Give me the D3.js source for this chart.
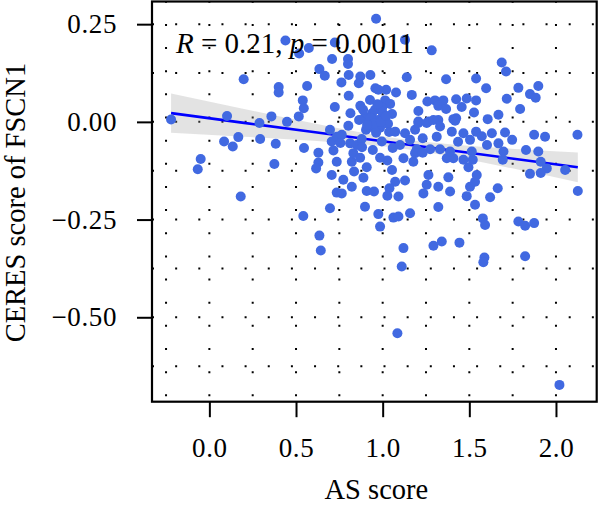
<!DOCTYPE html>
<html>
<head>
<meta charset="utf-8">
<script src="https://cdn.jsdelivr.net/npm/d3@7"></script>
<style>
  body { margin: 0; background: #ffffff; }
</style>
</head>
<body>
<div id="chart"></div>
<script>
/**
 * Data
 */
const asScore = [
  0.962, 1.129, 1.283, 0.439, 0.574, 0.518, 0.724, 0.708, 0.800, 0.800,
  1.687, 1.712, 0.198, 0.635, 0.666, 0.762, 0.804, 0.871, 0.862, 0.929,
  0.958, 1.139, 1.366, 1.539, 1.597, 1.783, 1.898, 1.850, 1.883, 0.564,
  0.400, 0.400, 0.804, 1.020, 0.975, 1.077, 1.168, 1.716, 0.539, 0.545,
  0.516, 0.724, 0.814, 0.871, 0.939, 0.358, 0.102, -0.221, 1.014, 1.043,
  0.956, 1.001, 1.206, 1.258, 1.302, 1.350, 1.321, 1.366, 1.424, 1.485,
  1.539, 1.456, 1.527, 1.606, 1.668, 1.793, 1.424, 1.206, 1.264, 1.321,
  1.408, 0.448, 0.289, 0.898, 0.916, 0.939, 0.973, 0.985, 1.014, 1.031,
  0.962, 0.904, 0.997, 1.054, 0.927, 0.887, 1.037, 0.864, 0.085, 0.135,
  0.167, 0.293, 0.383, 0.546, 0.696, 0.706, 0.735, 0.764, 0.802, 0.812,
  0.851, 0.879, 0.943, 0.995, 1.058, 1.072, 1.129, 1.231, 1.274, 1.331,
  1.197, 1.187, 1.206, 1.254, 1.293, 1.331, 1.312, 1.399, 1.418, 1.466,
  1.539, 1.630, 1.706, 1.668, 1.572, 1.874, 1.937, 2.124, 1.827, 1.898,
  0.756, 0.881, 1.158, 1.100, 1.435, 1.504, 1.602, 1.747, 0.629, 0.629,
  0.616, -0.050, -0.067, 0.375, 0.706, 0.773, 0.822, 0.735, 0.764, 0.908,
  0.950, 0.889, 0.908, 0.835, 0.822, 0.831, 0.735, 0.716, 1.027, 1.120,
  1.177, 1.187, 1.264, 1.254, 1.235, 1.321, 1.379, 1.389, 1.072, 1.129,
  1.039, 1.027, 1.091, 1.664, 1.620, 1.504, 1.533, 1.543, 1.495, 1.520,
  1.466, 1.514, 1.408, 1.370, 1.389, 1.693, 1.697, 1.912, 1.947, 1.912,
  1.850, 2.053, 2.126, 1.231, 1.485, 0.985, 0.870, 1.054, 0.181, 0.542,
  0.696, 0.635, 0.643, 0.898, 1.158, 1.062, 1.091, 0.975, 0.985, 1.120,
  1.293, 1.341, 1.443, 1.822, 1.578, 1.591, 1.783, 1.822, 1.874, 1.533,
  1.321, 1.110, 1.587, 1.581, 1.085, 2.020, 0.930, 0.950, 0.990, 1.020,
  0.910, 0.970
];
const ceresScore = [
  0.264, 0.210, 0.183, 0.208, 0.189, 0.175, 0.203, 0.161, 0.161, 0.148,
  0.152, 0.129, 0.109, 0.135, 0.118, 0.101, 0.120, 0.116, 0.099, 0.120,
  0.086, 0.114, 0.109, 0.111, 0.086, 0.087, 0.092, 0.071, 0.062, 0.092,
  0.089, 0.075, 0.067, 0.082, 0.082, 0.075, 0.069, 0.059, 0.055, 0.035,
  0.014, 0.038, 0.022, 0.041, 0.022, 0.014, 0.015, 0.006, 0.055, 0.046,
  0.031, 0.022, 0.028, 0.052, 0.055, 0.055, 0.041, 0.033, 0.058, 0.060,
  0.055, 0.038, 0.024, 0.007, 0.018, 0.033, 0.009, 0.001, 0.001, 0.005,
  0.007, 0.000, -0.003, 0.013, 0.000, -0.013, 0.005, -0.015, 0.010, -0.005,
  -0.028, -0.020, 0.036, 0.020, 0.056, 0.031, -0.026, 0.005, -0.050, -0.063,
  -0.039, -0.044, -0.056, -0.067, -0.020, -0.050, -0.038, -0.033, -0.010, -0.055,
  -0.059, -0.044, -0.072, -0.050, -0.067, -0.025, -0.029, -0.042, -0.070, -0.070,
  -0.070, -0.020, -0.003, -0.003, 0.005, -0.012, -0.038, -0.025, 0.003, -0.029,
  -0.025, -0.029, -0.027, -0.055, -0.037, -0.033, -0.038, -0.033, -0.072, -0.076,
  -0.054, -0.065, -0.046, -0.059, -0.051, -0.046, -0.059, -0.046, -0.079, -0.104,
  -0.119, -0.095, -0.121, -0.108, -0.136, -0.148, -0.166, -0.181, -0.183, -0.177,
  -0.178, -0.143, -0.116, -0.127, -0.102, -0.080, -0.102, -0.073, -0.099, -0.093,
  -0.102, -0.080, -0.136, -0.161, -0.183, -0.166, -0.142, -0.178, -0.153, -0.150,
  -0.170, -0.189, -0.191, -0.170, -0.193, -0.166, -0.153, -0.136, -0.116, -0.097,
  -0.097, -0.076, -0.093, -0.093, -0.076, -0.097, -0.076, -0.102, -0.119, -0.131,
  -0.133, -0.123, -0.177, -0.079, -0.190, -0.092, -0.092, -0.123, -0.191, -0.241,
  -0.221, -0.291, -0.329, -0.217, -0.234, -0.245, -0.242, -0.236, -0.268, -0.323,
  -0.317, -0.306, -0.309, -0.344, -0.247, -0.264, -0.255, -0.266, -0.259, -0.212,
  -0.218, -0.370, -0.347, -0.359, -0.541, -0.673, 0.010, -0.005, 0.000, 0.015,
  -0.008, 0.045
];

// regression line with its confidence band
const fitX = [-0.221, 0.2, 0.6, 1.0, 1.13, 1.4, 1.8, 2.126];
const fitY = [0.0223, -0.0025, -0.0261, -0.0497, -0.0574, -0.0733, -0.0969, -0.1162];
const fitLow = [-0.0277, -0.038, -0.0486, -0.0626, -0.0694, -0.0888, -0.1239, -0.1542];
const fitHigh = [0.0723, 0.033, -0.0036, -0.0368, -0.0454, -0.0578, -0.0699, -0.0782];

const xTicks = [0, 0.5, 1.0, 1.5, 2.0];
const xTickLabels = ["0.0", "0.5", "1.0", "1.5", "2.0"];
const yTicks = [0.25, 0, -0.25, -0.5];
const yTickLabels = ["0.25", "0.00", "\u22120.25", "\u22120.50"];
const xGrid = [-0.25, 0, 0.25, 0.5, 0.75, 1.0, 1.25, 1.5, 1.75, 2.0];
const yGrid = [0.25, 0.125, 0, -0.125, -0.25, -0.375, -0.5, -0.625];

/**
 * Basic settings
 */
const canvasWidth = 600;
const canvasHeight = 505;
const panel = { left: 152, right: 596.7, top: 1.5, bottom: 401.7 };
const fontFamily = "'Liberation Serif', 'Times New Roman', serif";

const svg = d3.select("#chart")
  .append("svg")
  .attr("width", canvasWidth)
  .attr("height", canvasHeight)
  .style("background", "#ffffff");

/**
 * Scales
 */
const xScale = d3.scaleLinear()
  .domain([-0.331, 2.235])
  .range([panel.left, panel.right]);

const yScale = d3.scaleLinear()
  .domain([-0.716, 0.308])
  .range([panel.bottom, panel.top]);

/**
 * Dotted grid
 */
const grid = svg.append("g")
  .attr("stroke", "#000")
  .attr("stroke-width", 2)
  .attr("stroke-dasharray", "2 21.15");

grid.selectAll("line.vgrid")
  .data(xGrid)
  .enter()
  .append("line")
  .attr("class", "vgrid")
  .attr("x1", d => xScale(d))
  .attr("x2", d => xScale(d))
  .attr("y1", panel.bottom - 5.4)
  .attr("y2", panel.top);

grid.selectAll("line.hgrid")
  .data(yGrid)
  .enter()
  .append("line")
  .attr("class", "hgrid")
  .attr("x1", panel.left)
  .attr("x2", panel.right)
  .attr("y1", d => yScale(d))
  .attr("y2", d => yScale(d));

/**
 * Confidence band + regression line
 */
const fitData = fitX.map((x, i) => ({ x: x, y: fitY[i], lo: fitLow[i], hi: fitHigh[i] }));

const band = d3.area()
  .x(d => xScale(d.x))
  .y0(d => yScale(d.lo))
  .y1(d => yScale(d.hi))
  .curve(d3.curveMonotoneX);

svg.append("path")
  .datum(fitData)
  .attr("d", band)
  .style("fill", "#999999")
  .style("opacity", 0.28);

const fitLine = d3.line()
  .x(d => xScale(d.x))
  .y(d => yScale(d.y));

svg.append("path")
  .datum(fitData)
  .attr("d", fitLine)
  .style("fill", "none")
  .style("stroke", "#0000ff")
  .style("stroke-width", 2.6);

/**
 * Points
 */
svg.append("g")
  .selectAll("circle")
  .data(asScore)
  .enter()
  .append("circle")
  .attr("cx", d => xScale(d))
  .attr("cy", (d, i) => yScale(ceresScore[i]))
  .attr("r", 5)
  .attr("fill", "#4169e1");

/**
 * Panel border
 */
svg.append("rect")
  .attr("x", panel.left)
  .attr("y", panel.top)
  .attr("width", panel.right - panel.left)
  .attr("height", panel.bottom - panel.top)
  .style("fill", "none")
  .style("stroke", "#000")
  .style("stroke-width", 2.2);

/**
 * Axes
 */
const xAxis = d3.axisBottom(xScale)
  .tickValues(xTicks)
  .tickFormat((d, i) => xTickLabels[i])
  .tickSize(15.5)
  .tickPadding(21);

const gx = svg.append("g")
  .attr("class", "x-axis")
  .attr("transform", "translate(0," + panel.bottom + ")")
  .call(xAxis);

const yAxis = d3.axisLeft(yScale)
  .tickValues(yTicks)
  .tickFormat((d, i) => yTickLabels[i])
  .tickSize(15)
  .tickPadding(20);

const gy = svg.append("g")
  .attr("class", "y-axis")
  .attr("transform", "translate(" + panel.left + ",0)")
  .call(yAxis);

[gx, gy].forEach(g => {
  g.select(".domain").remove();
  g.selectAll(".tick line").attr("stroke", "#000").attr("stroke-width", 2);
  g.selectAll(".tick text")
    .attr("fill", "#000")
    .style("font-family", fontFamily)
    .style("font-size", "27px")
    .style("letter-spacing", "0.6px");
});

/**
 * Axis titles
 */
svg.append("text")
  .attr("x", (panel.left + panel.right) / 2 + 2)
  .attr("y", 499)
  .attr("text-anchor", "middle")
  .style("font-family", fontFamily)
  .style("font-size", "28.5px")
  .text("AS score");

svg.append("text")
  .attr("transform", "translate(25," + ((panel.top + panel.bottom) / 2 + 1) + ") rotate(-90)")
  .attr("text-anchor", "middle")
  .style("font-family", fontFamily)
  .style("font-size", "28.5px")
  .text("CERES score of FSCN1");

/**
 * Correlation label
 */
const stat = svg.append("text")
  .attr("x", 176)
  .attr("y", 53)
  .style("font-family", fontFamily)
  .style("font-size", "29px");

stat.append("tspan").style("font-style", "italic").text("R");
stat.append("tspan").text(" = 0.21, ");
stat.append("tspan").style("font-style", "italic").text("p");
stat.append("tspan").text(" = 0.0011");
</script>
</body>
</html>
